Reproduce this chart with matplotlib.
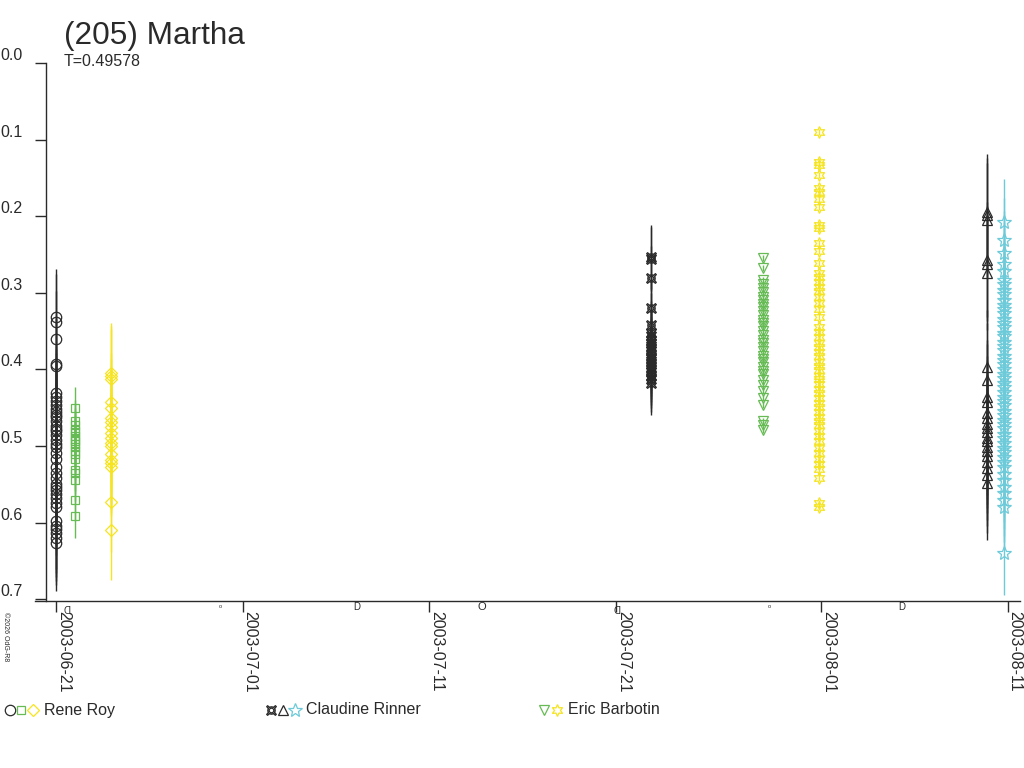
import matplotlib
matplotlib.use('Agg')
import matplotlib.pyplot as plt
import matplotlib.transforms as mtransforms
from matplotlib.lines import Line2D

plt.rcParams['font.family'] = ['Liberation Sans', 'DejaVu Sans']

# days since 2003-06-21
tick_days = [0, 10, 20, 30, 41, 51]
tick_labels = ['2003-06-21', '2003-07-01', '2003-07-11', '2003-07-21', '2003-08-01', '2003-08-11']

# moon phases (day, kind)
moon_days = [0.55, 8.8, 16.1, 22.8, 30.05, 38.2, 45.3]
moon_kind = ['last', 'new', 'first', 'full', 'last', 'new', 'first']

# ---- Rene Roy ----
roy_c_day = 0.0
roy_c_mag = [0.331, 0.338, 0.360, 0.393, 0.396, 0.431, 0.436, 0.441, 0.447, 0.452, 0.455,
             0.459, 0.462, 0.468, 0.474, 0.478, 0.481, 0.486, 0.492, 0.497, 0.501, 0.509,
             0.517, 0.527, 0.535, 0.542, 0.549, 0.553, 0.558, 0.563, 0.568, 0.574, 0.580,
             0.598, 0.604, 0.609, 0.614, 0.620, 0.627]
roy_c_err = 0.062

roy_s_day = 1.0
roy_s_mag = [0.451, 0.468, 0.473, 0.479, 0.482, 0.487, 0.491, 0.494, 0.498, 0.501,
             0.506, 0.511, 0.517, 0.531, 0.535, 0.544, 0.570, 0.592]
roy_s_err = 0.028

roy_d_day = 2.95
roy_d_mag = [0.405, 0.408, 0.412, 0.443, 0.451, 0.464, 0.469, 0.475, 0.483, 0.489,
             0.496, 0.500, 0.511, 0.518, 0.522, 0.527, 0.573, 0.610]
roy_d_err = 0.065

# ---- Claudine Rinner ----
rin_x_day = 31.9
rin_x_mag = [0.253, 0.256, 0.281, 0.320, 0.342, 0.353, 0.357, 0.362, 0.365, 0.369, 0.373,
             0.376, 0.381, 0.385, 0.389, 0.393, 0.397, 0.401, 0.404, 0.409, 0.413, 0.418]
rin_x_err = 0.042

rin_t_day = 49.9
rin_t_mag = [0.194, 0.199, 0.205, 0.257, 0.262, 0.274, 0.397, 0.414, 0.436, 0.442, 0.457,
             0.463, 0.471, 0.476, 0.482, 0.489, 0.494, 0.501, 0.506, 0.513, 0.521, 0.529,
             0.538, 0.548]
rin_t_err = 0.075

rin_s_day = 50.8
rin_s_mag = [0.207, 0.231, 0.248, 0.262, 0.271, 0.283, 0.289, 0.296, 0.302, 0.309, 0.316,
             0.321, 0.327, 0.334, 0.339, 0.345, 0.352, 0.357, 0.364, 0.369, 0.375, 0.382,
             0.388, 0.393, 0.399, 0.406, 0.411, 0.418, 0.423, 0.429, 0.436, 0.441, 0.447,
             0.454, 0.459, 0.466, 0.471, 0.477, 0.484, 0.489, 0.496, 0.502, 0.508, 0.515,
             0.521, 0.528, 0.536, 0.544, 0.553, 0.562, 0.571, 0.580, 0.640]
rin_s_err = 0.055

# ---- Eric Barbotin ----
bar_v_day = 37.9
bar_v_mag = [0.255, 0.268, 0.283, 0.288, 0.294, 0.299, 0.305, 0.309, 0.314, 0.319, 0.324,
             0.329, 0.335, 0.339, 0.344, 0.350, 0.355, 0.361, 0.366, 0.371, 0.376, 0.382,
             0.386, 0.391, 0.397, 0.402, 0.406, 0.414, 0.421, 0.428, 0.437, 0.446, 0.467,
             0.472, 0.479]
bar_v_err = 0.004

bar_h_day = 40.9
bar_h_mag = [0.090, 0.129, 0.133, 0.146, 0.163, 0.169, 0.177, 0.188, 0.211, 0.215, 0.235,
             0.246, 0.261, 0.274, 0.279, 0.286, 0.293, 0.298, 0.305, 0.313, 0.321, 0.331,
             0.345, 0.351, 0.358, 0.366, 0.371, 0.377, 0.383, 0.390, 0.395, 0.401, 0.408,
             0.413, 0.419, 0.426, 0.431, 0.437, 0.444, 0.449, 0.455, 0.462, 0.467, 0.473,
             0.480, 0.487, 0.494, 0.502, 0.509, 0.517, 0.524, 0.530, 0.542, 0.575, 0.580]
bar_h_err = 0.004

BLACK = '#2a2a2a'
GREEN = '#66bb55'
YELLOW = '#f5e41e'
CYAN = '#6ccad9'
HEX = (6, 1, 0)

series = [
    (roy_c_day, roy_c_mag, roy_c_err, BLACK, 'o', 7.5),
    (roy_s_day, roy_s_mag, roy_s_err, GREEN, 's', 6.0),
    (roy_d_day, roy_d_mag, roy_d_err, YELLOW, 'D', 6.5),
    (rin_x_day, rin_x_mag, rin_x_err, BLACK, '$¤$', 7.0),
    (rin_t_day, rin_t_mag, rin_t_err, BLACK, '^', 7.5),
    (rin_s_day, rin_s_mag, rin_s_err, CYAN, '*', 10.0),
    (bar_v_day, bar_v_mag, bar_v_err, GREEN, 'v', 7.5),
    (bar_h_day, bar_h_mag, bar_h_err, YELLOW, HEX, 8.5),
]

fig = plt.figure(figsize=(10.24, 7.68), dpi=100)
ax = fig.add_axes([35 / 1024, 1 - 601 / 768, 985 / 1024, 538 / 768])

for day, mags, err, col, mk, ms in series:
    days = [day] * len(mags)
    ax.errorbar(days, mags, yerr=err, fmt='none', ecolor=col, elinewidth=1.0, capsize=0)
    ax.plot(days, mags, linestyle='none', marker=mk, markersize=ms,
            markerfacecolor='none', markeredgecolor=col, markeredgewidth=0.9)

ax.set_xlim(-1.125, 51.66)
ax.set_ylim(0.7024, 0.0)
ax.spines['top'].set_visible(False)
ax.spines['right'].set_visible(False)
ax.spines['left'].set_position(('data', -0.536))
for s in ('left', 'bottom'):
    ax.spines[s].set_color(BLACK)
    ax.spines[s].set_linewidth(1.0)

ax.set_yticks([0.0, 0.1, 0.2, 0.3, 0.4, 0.5, 0.6, 0.7])
ax.set_yticklabels(['0.0', '0.1', '0.2', '0.3', '0.4', '0.5', '0.6', '0.7'])
ax.tick_params(axis='y', length=8, width=1, pad=9.0, labelsize=11.5, colors=BLACK)
for lab in ax.get_yticklabels():
    lab.set_va('bottom')

ax.set_xticks(tick_days)
ax.set_xticklabels(tick_labels, rotation=-90, ha='left', va='top')
ax.tick_params(axis='x', length=8, width=1, pad=-1, labelsize=11.5, colors=BLACK)

# moon phase glyphs under the axis
trans = mtransforms.blended_transform_factory(ax.transData, ax.transAxes)
for d, k in zip(moon_days, moon_kind):
    if k == 'new':
        ax.text(d, -0.011, 'o', transform=trans, ha='center', va='center', fontsize=4, color=BLACK)
    elif k == 'full':
        ax.text(d, -0.011, 'O', transform=trans, ha='center', va='center', fontsize=8, color=BLACK)
    elif k == 'first':
        ax.text(d, -0.011, 'D', transform=trans, ha='center', va='center', fontsize=7, color=BLACK)
    else:
        ax.text(d, -0.011, 'D', transform=trans, ha='center', va='center', fontsize=7,
                color=BLACK, rotation=180)

fig.text(64 / 1024, 1 - 44 / 768, '(205) Martha', fontsize=22.7, color=BLACK, va='baseline')
fig.text(64 / 1024, 1 - 66 / 768, 'T=0.49578', fontsize=11.5, color=BLACK, va='baseline')
fig.text(5 / 1024, 1 - 612 / 768, '©2026 OdG-R8', fontsize=5, rotation=-90,
         ha='center', va='top', color=BLACK)

# legend
leg_y = 1 - 710 / 768
legend_items = [
    ([(10, BLACK, 'o', 7.5), (21, GREEN, 's', 6.0), (33, YELLOW, 'D', 6.5)], 44, 'Rene Roy'),
    ([(271, BLACK, '$¤$', 7.0), (283, BLACK, '^', 7.5), (295, CYAN, '*', 10.0)], 306, 'Claudine Rinner'),
    ([(544, GREEN, 'v', 7.5), (557, YELLOW, HEX, 8.5)], 568, 'Eric Barbotin'),
]
for markers, tx, name in legend_items:
    for mx, col, mk, ms in markers:
        fig.add_artist(Line2D([mx / 1024], [leg_y], transform=fig.transFigure, linestyle='none',
                              marker=mk, markersize=ms, markerfacecolor='none',
                              markeredgecolor=col, markeredgewidth=0.9))
    fig.text(tx / 1024, leg_y, name, fontsize=11.5, color=BLACK, va='center')

fig.savefig('out.png', dpi=100, facecolor='white')
